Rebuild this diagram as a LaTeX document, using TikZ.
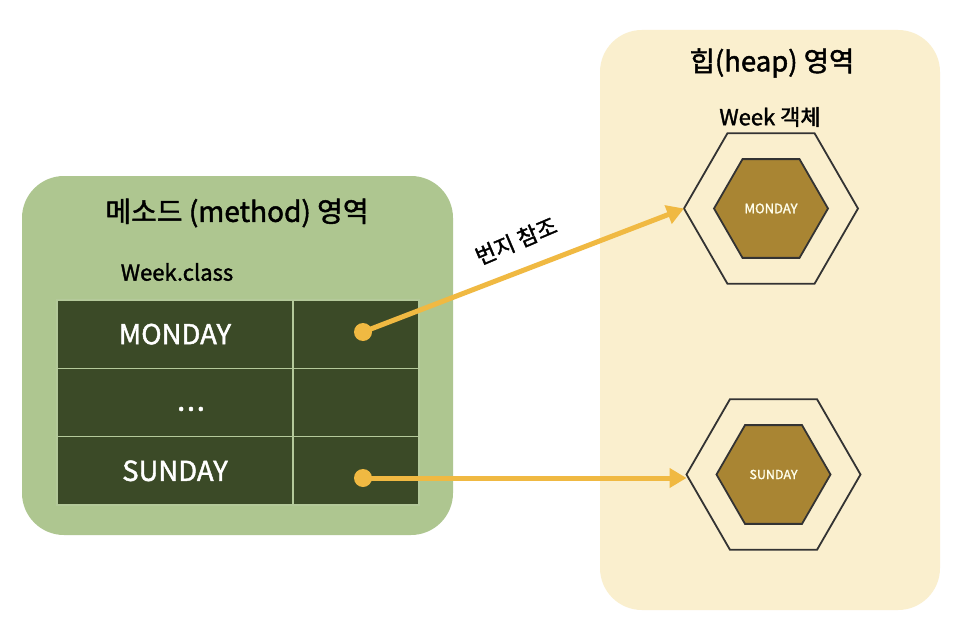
\documentclass[tikz,border=0pt]{standalone}
\usepackage{fontspec}
\setmainfont{Noto Sans CJK KR}[FakeBold=1.6]
\usetikzlibrary{shapes.geometric,arrows.meta}
\definecolor{methodbg}{HTML}{AEC690}
\definecolor{heapbg}{HTML}{FAEFCE}
\definecolor{tabledark}{HTML}{3B4A27}
\definecolor{tableline}{HTML}{B4C99A}
\definecolor{hexfill}{HTML}{A98533}
\definecolor{hexline}{HTML}{333333}
\definecolor{arrowcol}{HTML}{F0B942}
\tikzset{
  region/.style={fill=#1, draw=none, rounded corners=42pt, inner sep=0pt},
  cell/.style={fill=tabledark, draw=tableline, line width=1.2pt, inner sep=0pt, text=white, font=\fontsize{27.5}{31}\selectfont},
  dotnode/.style={circle, fill=arrowcol, inner sep=0pt, minimum size=18pt},
  outerhex/.style={regular polygon, regular polygon sides=6, draw=hexline, line width=1.8pt, inner sep=0pt, outer sep=0pt, minimum size=174pt},
  innerhex/.style={regular polygon, regular polygon sides=6, draw=hexline, fill=hexfill, line width=1.8pt, inner sep=0pt, outer sep=0pt, minimum size=114pt, text=white!92!yellow},
  ref/.style={draw=arrowcol, line width=5pt, -{Triangle[length=17pt,width=19pt]}},
}
\begin{document}
\begin{tikzpicture}[x=1pt,y=-1pt]
\useasboundingbox (0,0) rectangle (964,618);
\fill[white] (0,0) rectangle (964,618);
% regions
\node[region=methodbg, minimum width=431pt, minimum height=359pt] (method) at (237.5,355.5) {};
\node[region=heapbg, minimum width=340pt, minimum height=580pt] (heap) at (770,320) {};
% titles
\node[font=\fontsize{28}{32}\selectfont] (mtitle) at (237,213) {메소드 (method) 영역};
\node[font=\fontsize{22}{26}\selectfont] (wclass) at (177,272) {Week.class};
\node[font=\fontsize{27.5}{32}\selectfont] (htitle) at (772,63) {힙(heap) 영역};
\node[font=\fontsize{22}{26}\selectfont] (wobj) at (770,117) {Week 객체};
% table
\node[cell, minimum width=236pt, minimum height=68.3pt] (c11) at (175,334.15) {MONDAY};
\node[cell, minimum width=126pt, minimum height=68.3pt] (c12) at (356,334.15) {};
\node[cell, minimum width=236pt, minimum height=68.3pt] (c21) at (175,402.5) {};
\node[cell, minimum width=126pt, minimum height=68.3pt] (c22) at (356,402.5) {};
\node[cell, minimum width=236pt, minimum height=68.3pt] (c31) at (175,470.85) {SUNDAY};
\node[cell, minimum width=126pt, minimum height=68.3pt] (c32) at (356,470.85) {};
\node[text=white, font=\fontsize{30}{34}\selectfont] (dots) at (191,409) {.\kern1.5pt.\kern1.5pt.};
% hexagons
\node[outerhex] (hexm) at (771,208.5) {};
\node[innerhex, font=\fontsize{13}{15}\selectfont] (inm) at (771,208.5) {MONDAY};
\node[outerhex] (hexs) at (773.5,474.5) {};
\node[innerhex, font=\fontsize{12.5}{15}\selectfont] (ins) at (773.5,474.5) {SUNDAY};
% dots
\node[dotnode] (dm) at (363,332) {};
\node[dotnode] (ds) at (363,478) {};
% arrows
\draw[ref] (dm.center) -- (hexm.west);
\draw[ref] (ds.center) -- (ds.center -| hexs.west);
\node[font=\fontsize{22}{26}\selectfont, rotate=23, inner sep=1pt] (lbl) at (516,241) {번지 참조};
\end{tikzpicture}
\end{document}
